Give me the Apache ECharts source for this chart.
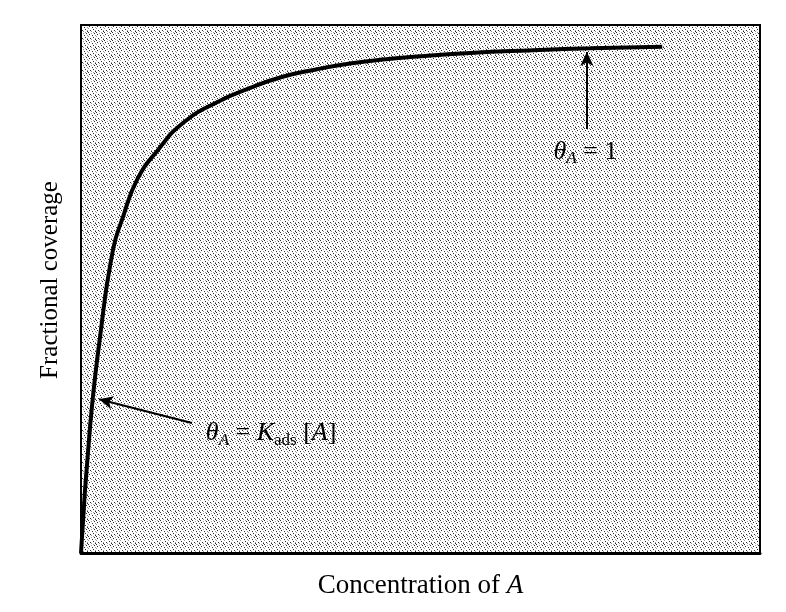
<!DOCTYPE html>
<html>
<head>
<meta charset="utf-8">
<script src="https://cdn.jsdelivr.net/npm/echarts@6/dist/echarts.min.js"></script>
<style>html,body{margin:0;padding:0;background:#fff}#c{width:786px;height:612px}</style>
</head>
<body>
<div id="c"></div>
<script>
// Concentration of A (arbitrary units, 0..100 across the plot box)
const concentration = [0, 1.33, 2.8, 4.71, 6.19, 8.25, 11.34, 15.02, 20.03, 24.9, 29.7, 34.8, 39.6, 44.5, 49.5, 57.3, 66, 75, 85.6];
// Fractional coverage theta_A
const coverage = [0, 0.248, 0.425, 0.597, 0.662, 0.735, 0.794, 0.847, 0.888, 0.916, 0.938, 0.953, 0.964, 0.972, 0.978, 0.985, 0.990, 0.994, 0.997];

const xAxisName = 'Concentration of {i|A}';
const yAxisName = 'Fractional coverage';
const labelHigh = '{t|θ}{s|A}{n| = 1}';
const labelLow = '{t|θ}{s|A}{n| = }{t|K}{u|ads}{n| [}{t|A}{n|]}';

// stipple background pattern
function makePattern() {
  const rows = [
    '#....,..',
    '...,..#.',
    '.#......',
    '....#..,',
    ',.......',
    '.....#..',
    '..#....,',
    '...,...#'
  ];
  const cv = document.createElement('canvas');
  cv.width = 8; cv.height = 8;
  const ctx = cv.getContext('2d');
  ctx.fillStyle = '#ffffff';
  ctx.fillRect(0, 0, 8, 8);
  for (let y = 0; y < 8; y++) {
    for (let x = 0; x < 8; x++) {
      const ch = rows[y][x];
      if (ch === '#') { ctx.fillStyle = '#2a2a2a'; ctx.fillRect(x, y, 1, 1); }
      else if (ch === ',') { ctx.fillStyle = '#9a9a9a'; ctx.fillRect(x, y, 1, 1); }
    }
  }
  return cv;
}

const serif = 'Liberation Serif';
const rich = {
  t: { fontFamily: serif, fontStyle: 'italic', fontSize: 26, color: '#000' },
  n: { fontFamily: serif, fontSize: 26, color: '#000' },
  s: { fontFamily: serif, fontStyle: 'italic', fontSize: 17, color: '#000', padding: [14, 0, 0, 0] },
  u: { fontFamily: serif, fontSize: 17, color: '#000', padding: [14, 0, 0, 0] }
};

const chart = echarts.init(document.getElementById('c'), null, { renderer: 'canvas' });
chart.setOption({
  animation: false,
  grid: {
    left: 81, right: 26, top: 25, bottom: 59,
    show: true,
    backgroundColor: { image: makePattern(), repeat: 'repeat' },
    borderColor: '#000',
    borderWidth: 2
  },
  xAxis: {
    type: 'value', min: 0, max: 100,
    name: xAxisName, nameLocation: 'middle', nameGap: 19,
    nameTextStyle: { fontFamily: serif, fontSize: 27, color: '#000',
      rich: { i: { fontFamily: serif, fontStyle: 'italic', fontSize: 27, color: '#000' } } },
    axisLine: { show: true, lineStyle: { color: '#000', width: 3 } },
    axisTick: { show: false }, axisLabel: { show: false }, splitLine: { show: false }
  },
  yAxis: {
    type: 'value', min: 0, max: 1.04,
    name: yAxisName, nameLocation: 'middle', nameGap: 18,
    nameTextStyle: { fontFamily: serif, fontSize: 25, color: '#000', padding: [0, 0, 0, 18] },
    axisLine: { show: true, lineStyle: { color: '#000', width: 2 } },
    axisTick: { show: false }, axisLabel: { show: false }, splitLine: { show: false }
  },
  series: [{
    type: 'line',
    data: concentration.map((x, i) => [x, coverage[i]]),
    smooth: 0.5,
    symbol: 'none',
    lineStyle: { color: '#000', width: 4 },
    markLine: {
      silent: true,
      symbol: ['none', 'arrow'],
      symbolSize: [10, 14],
      label: { show: false },
      lineStyle: { color: '#000', width: 2, type: 'solid' },
      data: [
        [{ coord: [16.35, 0.256] }, { coord: [2.65, 0.303] }],
        [{ coord: [74.5, 0.835] }, { coord: [74.5, 0.987] }]
      ]
    },
    markPoint: {
      silent: true,
      symbol: 'circle', symbolSize: 0,
      label: { show: true, position: 'inside', color: '#000', rich: rich },
      data: [
        { coord: [74.3, 0.79], label: { formatter: labelHigh } },
        { coord: [28.0, 0.236], label: { formatter: labelLow } }
      ]
    }
  }]
});
</script>
</body>
</html>
